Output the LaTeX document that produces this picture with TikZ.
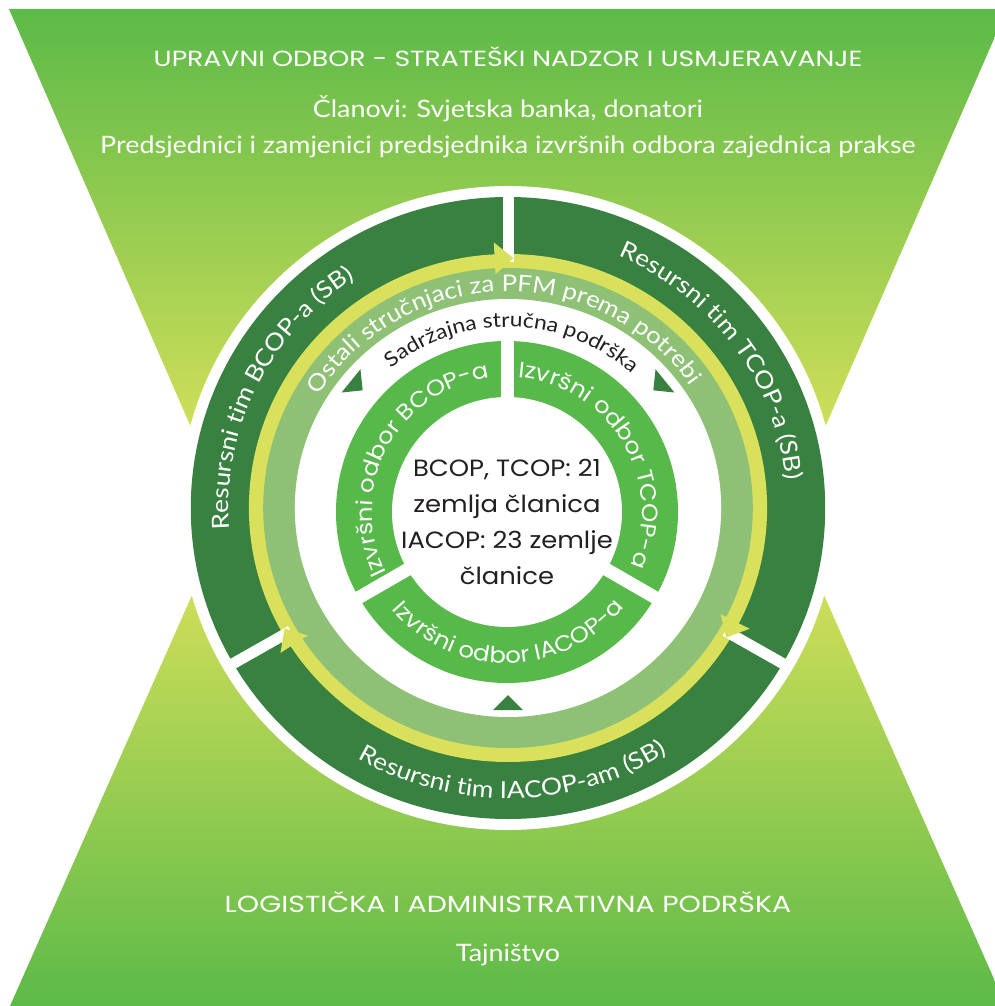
\documentclass[tikz,border=0pt]{standalone}
\usepackage{fontspec}
\setmainfont[FakeStretch=1.12]{Lato}
\newfontfamily\geofont[FakeStretch=1.1]{Poppins}
\newfontfamily\capsfont[FakeStretch=1.22]{Poppins}
\usetikzlibrary{decorations.text}

\definecolor{ringdark}{RGB}{56,129,64}
\definecolor{ringyellow}{RGB}{217,225,92}
\definecolor{ringlight}{RGB}{142,193,118}
\definecolor{ringinner}{RGB}{87,185,73}
\definecolor{fangreen}{RGB}{92,186,72}
\definecolor{fanyellow}{RGB}{213,224,90}
\definecolor{inktext}{RGB}{35,31,32}

\newcommand{\teamfont}{\fontsize{23.5}{27}\selectfont}
\newcommand{\expertfont}{\fontsize{23}{26}\selectfont}
\newcommand{\supportfont}{\fontsize{20.4}{23}\selectfont}
\newcommand{\boardfont}{\geofont\fontsize{22.2}{26}\selectfont}

\begin{document}
\begin{tikzpicture}[x=1pt, y=1pt,
		heading/.style = {text=white, font=\capsfont\fontsize{21.9}{25}\selectfont},
		subline/.style = {text=white, font=\fontsize{24}{28}\selectfont},
		gapline/.style = {white, line width=11pt},
		innergap/.style = {white, line width=13pt},
		arc text/.style 2 args = {decorate, decoration={text along path, text align=center, text color=#1, text={#2}}}]
	
	\useasboundingbox (-508,-498) rectangle (487,508);
	
	% Upper and lower fans
	\shade[top color=fangreen, bottom color=fanyellow] (-499,499) -- (499,499) -- (308,60) -- (-308,60) -- cycle;
	\shade[top color=fanyellow, bottom color=fangreen] (-304,-60) -- (304,-60) -- (498,-498) -- (-498,-498) -- cycle;
	
	% Outer rings, a bit wider than tall
	\begin{scope}[xscale=1.02]
		\fill[white] (0,0) circle (322);
		\fill[ringdark] (0,0) circle (311);
		\fill[ringyellow] (0,0) circle (254);
		\fill[ringlight] (0,0) circle (240);
		\fill[white] (0,0) circle (209);
		\foreach \a in {90,210,330}
		\draw[gapline] (\a:246) -- (\a:318);
		\foreach \a in {90,210,330}
		\fill[ringyellow] ({\a-1.2}:250) -- ({\a+3}:266) -- ({\a+3}:234) -- cycle;
	\end{scope}
	
	% Arrows towards the executive boards
	\foreach \a in {141,39,270}
	\fill[ringdark, rotate=\a] (187,0) -- (202,15) -- (202,-15) -- cycle;
	
	% Executive boards
	\begin{scope}[shift={(-1,-4)}]
		\fill[ringinner] (0,0) circle (171);
		\fill[white] (0,0) circle (115);
		\foreach \a in {90,210,330}
		\draw[innergap] (\a:108) -- (\a:176);
		\path[arc text={white}{|\boardfont|Izvršni odbor BCOP-a}] (232:135) arc[start angle=232, end angle=72, radius=135];
		\path[arc text={white}{|\boardfont|Izvršni odbor TCOP-a}] (111:135) arc[start angle=111, end angle=-49, radius=135];
		\path[arc text={white}{|\boardfont|Izvršni odbor IACOP-a}] (190.7:151) arc[start angle=190.7, end angle=350.7, radius=151];
	\end{scope}
	
	% Resource teams
	\path[arc text={white}{|\teamfont|Resursni tim BCOP-a (SB)}] (214:279.5 and 274) arc[start angle=214, end angle=94, x radius=279.5, y radius=274];
	\path[arc text={white}{|\teamfont|Resursni tim TCOP-a (SB)}] (96:279.5 and 274) arc[start angle=96, end angle=-24, x radius=279.5, y radius=274];
	\path[arc text={white}{|\teamfont|Resursni tim IACOP-am (SB)}] (211:296.3 and 290.5) arc[start angle=211, end angle=331, x radius=296.3, y radius=290.5];
	
	% Experts and support
	\path[arc text={white}{|\expertfont|Ostali stručnjaci za PFM prema potrebi}] (171.5:220.8 and 216.5) arc[start angle=171.5, end angle=11.5, x radius=220.8, y radius=216.5];
	\path[arc text={inktext}{|\supportfont|Sadržajna stručna podrška}] (168.7:184.6 and 181) arc[start angle=168.7, end angle=8.7, x radius=184.6, y radius=181];
	
	% Centre
	\node[align=center, text=inktext, font=\geofont\fontsize{23.5}{36}\selectfont] (countries) at (-1,-14) {BCOP, TCOP: 21\\zemlja članica\\IACOP: 23 zemlje\\članice};
	
	% Top and bottom texts
	\node[heading] (board) at (0,451) {UPRAVNI ODBOR - STRATEŠKI NADZOR I USMJERAVANJE};
	\node[subline] (members) at (0,399) {Članovi: Svjetska banka, donatori};
	\node[subline] (chairs) at (0,361) {Predsjednici i zamjenici predsjednika izvršnih odbora zajednica prakse};
	\node[heading, font=\capsfont\fontsize{23.3}{27}\selectfont] (logistics) at (0,-394) {LOGISTIČKA I ADMINISTRATIVNA PODRŠKA};
	\node[subline] (secretariat) at (0,-447) {Tajništvo};
	
\end{tikzpicture}
\end{document}
